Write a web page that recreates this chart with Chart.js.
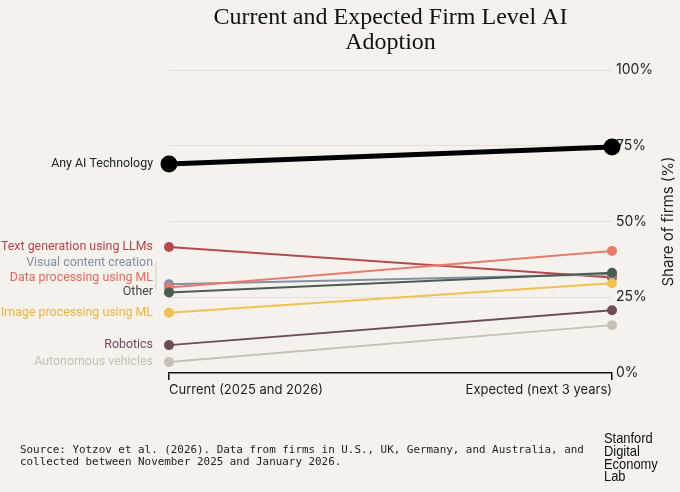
<!DOCTYPE html>
<html>
<head>
<meta charset="utf-8">
<script src="https://cdn.jsdelivr.net/npm/chart.js@4.4.1/dist/chart.umd.min.js"></script>
<style>
  html, body { margin: 0; padding: 0; background: #f5f2ee; }
  #wrap { width: 680px; height: 492px; position: relative; }
</style>
</head>
<body>
<div id="wrap"><canvas id="chart"></canvas></div>
<script>
// data
const categories = ['Current (2025 and 2026)', 'Expected (next 3 years)'];
const seriesNames = ['Autonomous vehicles', 'Robotics', 'Image processing using ML', 'Other',
  'Data processing using ML', 'Visual content creation', 'Text generation using LLMs', 'Any AI Technology'];
const autonomous = [3.6, 15.8];
const robotics = [9.2, 20.7];
const imageProc = [19.9, 29.6];
const other = [26.6, 33.1];
const dataProc = [28.2, 40.3];
const visual = [29.3, 32.6];
const textGen = [41.6, 31.5];
const anyAI = [69.0, 74.6];
const yTicks = [0, 25, 50, 75, 100];

const seriesValues = [autonomous, robotics, imageProc, other, dataProc, visual, textGen, anyAI];
const colors = ['#c9c0b5', '#6f4b57', '#eec152', '#4b5d50', '#e87a6c', '#8191a8', '#b54a4e', '#000000'];
const labelColors = ['#c9c0b5', '#6f4b57', '#eab43e', '#444444', '#e2685b', '#7f8fa7', '#b04448', '#222222'];
const labelShift = [0, 0, 0, 0, -10, -21, 0, 0];

const sans = 'Inter, "Noto Sans", sans-serif';

const datasets = seriesNames.map((name, i) => {
  const big = name === 'Any AI Technology';
  return {
    label: name,
    data: seriesValues[i],
    borderColor: colors[i],
    backgroundColor: colors[i],
    borderWidth: big ? 5 : 2,
    pointRadius: big ? 6 : 4,
    pointHoverRadius: big ? 6 : 4,
    clip: false,
    tension: 0
  };
});

// left-hand series labels + title + footer text
const decor = {
  id: 'decor',
  afterDatasetsDraw(chart) {
    const c = chart.ctx;
    const area = chart.chartArea;
    c.save();
    c.font = '12.4px Roboto, sans-serif';
    c.textAlign = 'right';
    c.textBaseline = 'middle';
    chart.data.datasets.forEach((ds, i) => {
      const pt = chart.getDatasetMeta(i).data[0];
      c.fillStyle = labelColors[i];
      c.fillText(ds.label, pt.x - 16, pt.y + labelShift[i]);
    });
    // small leader bracket next to the crowded labels
    const v = chart.getDatasetMeta(5).data[0];
    c.strokeStyle = '#cfcac4';
    c.lineWidth = 1;
    c.beginPath();
    c.moveTo(area.left - 13, v.y - 22);
    c.lineTo(area.left - 13, v.y + 6);
    c.stroke();

    // y axis title, reading upwards
    c.save();
    c.translate(668, (area.top + area.bottom) / 2);
    c.rotate(-Math.PI / 2);
    c.textAlign = 'center';
    c.fillStyle = '#222';
    c.font = '15px ' + sans;
    c.fillText('Share of firms (%)', 0, 0);
    c.restore();

    // title
    const cx = (area.left + area.right) / 2;
    c.textAlign = 'center';
    c.textBaseline = 'alphabetic';
    c.fillStyle = '#111';
    c.font = '24px "Liberation Serif", "DejaVu Serif", serif';
    c.fillText('Current and Expected Firm Level AI', cx, 24);
    c.fillText('Adoption', cx, 49);

    // source
    c.textAlign = 'left';
    c.font = '10.9px "DejaVu Sans Mono", "Liberation Mono", monospace';
    c.fillStyle = '#222';
    c.fillText('Source: Yotzov et al. (2026). Data from firms in U.S., UK, Germany, and Australia, and', 20, 453);
    c.fillText('collected between November 2025 and January 2026.', 20, 465);

    // logo
    c.save();
    c.translate(604, 0);
    c.scale(0.86, 1);
    c.font = '15px "Liberation Sans", sans-serif';
    c.fillStyle = '#111';
    ['Stanford', 'Digital', 'Economy', 'Lab'].forEach((t, k) => c.fillText(t, 0, 443 + k * 12.8));
    c.restore();
    c.restore();
  }
};

new Chart(document.getElementById('chart'), {
  type: 'line',
  data: { labels: categories, datasets: datasets },
  plugins: [decor],
  options: {
    responsive: true,
    maintainAspectRatio: false,
    animation: false,
    layout: { padding: { left: 169, right: 0, top: 70, bottom: 89 } },
    plugins: { legend: { display: false }, tooltip: { enabled: false } },
    scales: {
      x: {
        offset: false,
        afterFit(scale) { scale.height = 30; },
        grid: { drawOnChartArea: false, drawTicks: true, tickLength: 7, color: '#111', lineWidth: 1.5 },
        border: { display: true, color: '#111', width: 1.5 },
        ticks: { align: 'inner', padding: 2, color: '#222', font: { size: 13, family: sans } }
      },
      y: {
        position: 'right',
        min: 0,
        max: 100,
        afterFit(scale) { scale.width = 68; },
        afterBuildTicks(scale) { scale.ticks = yTicks.map(v => ({ value: v })); },
        grid: {
          drawTicks: false,
          color: ctx => (ctx.tick && ctx.tick.value === 0) ? 'rgba(0,0,0,0)' : '#e4dfd8',
          lineWidth: 1
        },
        border: { display: false },
        ticks: {
          padding: 4,
          color: '#222',
          font: { size: 14, family: sans },
          callback: v => v + '%'
        }
      }
    }
  }
});
</script>
</body>
</html>
